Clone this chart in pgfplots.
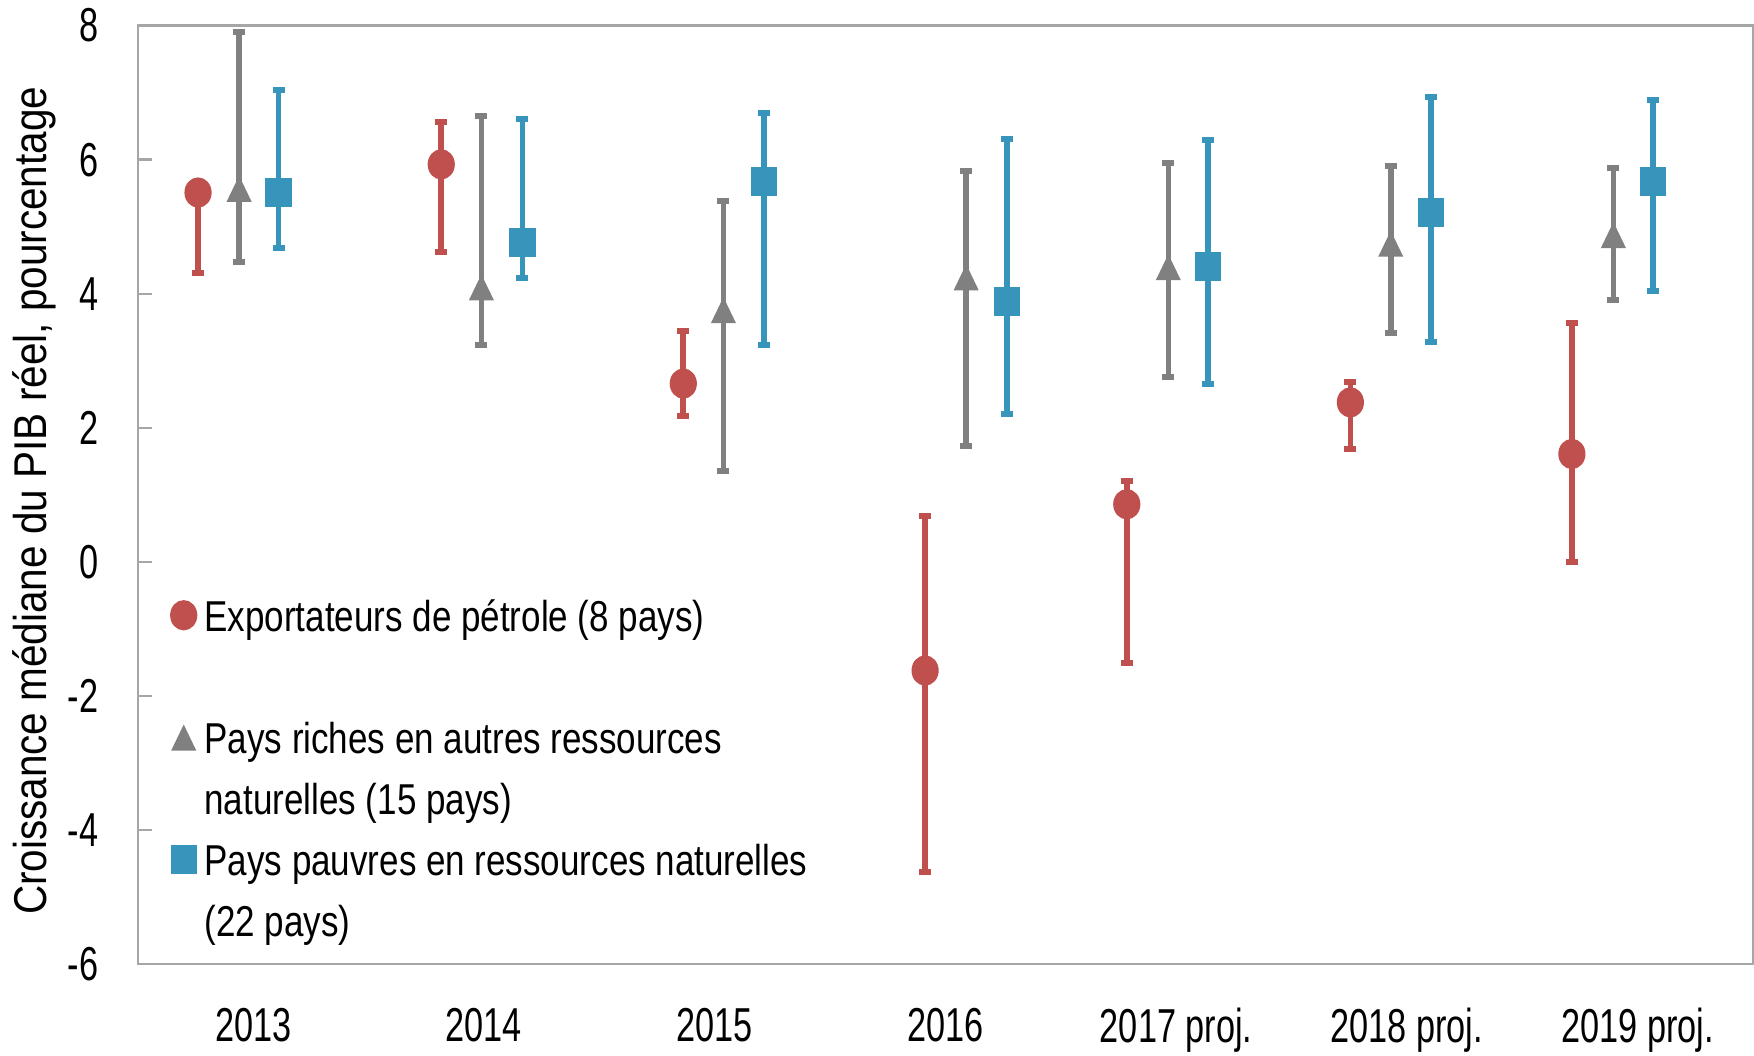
\documentclass[border=0pt]{standalone}
\usepackage{pgfplots}
\pgfplotsset{compat=1.18}
\usepackage{pgfplotstable}
\usepackage{fontspec}
\setmainfont{Liberation Sans}
\newfontfamily\ticknarrow{Liberation Sans}[FakeStretch=0.72]
\newfontfamily\legnarrow{Liberation Sans}[FakeStretch=0.81]
\newfontfamily\labnarrow{Liberation Sans}[FakeStretch=0.88]

\definecolor{cRed}{HTML}{C0504D}
\definecolor{cGray}{HTML}{808080}
\definecolor{cBlue}{HTML}{3795BC}
\definecolor{cFrame}{HTML}{A6A6A6}

% x = position (group index + offset), y = median, lo/hi = range
\pgfplotstableread{
x      y     lo     hi
-0.239 5.51  4.31   5.51
0.815  5.93  4.62   6.56
1.864  2.66  2.17   3.44
2.912  -1.62 -4.62  0.69
3.786  0.86  -1.51  1.21
4.755  2.38  1.68   2.69
5.715  1.61  0.00   3.56
}\oilexp

\pgfplotstableread{
x      y     lo     hi
-0.061 5.57  4.48   7.90
0.989  4.10  3.24   6.65
2.038  3.76  1.35   5.38
3.090  4.25  1.73   5.83
3.966  4.40  2.76   5.95
4.930  4.75  3.42   5.91
5.895  4.88  3.91   5.88
}\riches

\pgfplotstableread{
x      y     lo     hi
0.110  5.51  4.69   7.04
1.167  4.77  4.24   6.61
2.214  5.67  3.24   6.69
3.266  3.88  2.21   6.31
4.137  4.41  2.65   6.30
5.105  5.21  3.28   6.93
6.067  5.68  4.04   6.89
}\pauvres

\begin{document}
\begin{tikzpicture}
\begin{axis}[
  name=ax,
  scale only axis,
  width=403.75pt, height=234.6pt,
  xmin=-0.5, xmax=6.5, ymin=-6, ymax=8,
  xtick={0,...,6},
  xticklabels={2013,2014,2015,2016,2017 proj.,2018 proj.,2019 proj.},
  ytick={-6,-4,-2,0,2,4,6,8},
  yticklabels={-6,-4,-2,0,2,4,6,8},
  axis line style={cFrame, line width=0.6pt},
  ytick pos=left,
  tick align=inside,
  major tick length=3.6pt,
  ytick style={cFrame, line width=0.6pt},
  xtick style={draw=none},
  xticklabel style={font=\ticknarrow\fontsize{11.9}{14}\selectfont, anchor=north, inner sep=0pt, yshift=-10.75pt},
  yticklabel style={font=\ticknarrow\fontsize{11.9}{14}\selectfont, anchor=east, inner sep=0pt, xshift=-9.7pt},
  ylabel={Croissance médiane du PIB réel, pourcentage},
  ylabel style={font=\labnarrow\fontsize{11.5}{13}\selectfont, at={(axis description cs:-0.064,0.4936)}, anchor=center},
  legend image code/.code={\draw[#1] plot coordinates {(0cm,1.4pt)};},
  legend cell align=left,
  legend style={at={(0.02,0.389)}, anchor=north west, draw=none, fill=none, inner sep=0pt,
    row sep=4.75pt, column sep=2pt, font=\legnarrow\fontsize{10.8}{13}\selectfont,
    nodes={inner sep=0pt, text height=8pt, text depth=2.5pt}},
  error bars/y dir=both,
  error bars/y explicit,
  error bars/error mark=|,
]
% legend
\addlegendimage{only marks, mark=*, cRed, mark size=3.2pt, mark options={yscale=1.12, fill=cRed, draw=cRed}}
\addlegendentry{Exportateurs de pétrole (8 pays)}
\addlegendimage{empty legend}
\addlegendentry{}
\addlegendimage{only marks, mark=triangle*, cGray, mark size=3.89pt, mark options={xscale=0.835, yshift=-1.17pt, fill=cGray, draw=cGray}}
\addlegendentry{Pays riches en autres ressources}
\addlegendimage{empty legend}
\addlegendentry{naturelles (15 pays)}
\addlegendimage{only marks, mark=square*, cBlue, mark size=3.1pt, mark options={yscale=1.1, fill=cBlue, draw=cBlue}}
\addlegendentry{Pays pauvres en ressources naturelles}
\addlegendimage{empty legend}
\addlegendentry{(22 pays)}

% series
\addplot[forget plot, only marks, mark=*, cRed, mark size=3.2pt, mark options={yscale=1.12, fill=cRed, draw=cRed},
  error bars/error bar style={line width=1.4pt, cRed},
  error bars/error mark options={line width=1.5pt, mark size=1.5pt, cRed}]
  table[x=x, y=y, y error plus expr=\thisrow{hi}-\thisrow{y}, y error minus expr=\thisrow{y}-\thisrow{lo}] {\oilexp};

\addplot[forget plot, only marks, mark=triangle*, cGray, mark size=3.89pt, mark options={xscale=0.835, yshift=-1.17pt, fill=cGray, draw=cGray},
  error bars/error bar style={line width=1.4pt, cGray},
  error bars/error mark options={line width=1.5pt, mark size=1.5pt, cGray}]
  table[x=x, y=y, y error plus expr=\thisrow{hi}-\thisrow{y}, y error minus expr=\thisrow{y}-\thisrow{lo}] {\riches};

\addplot[forget plot, only marks, mark=square*, cBlue, mark size=3.1pt, mark options={yscale=1.1, fill=cBlue, draw=cBlue},
  error bars/error bar style={line width=1.4pt, cBlue},
  error bars/error mark options={line width=1.5pt, mark size=1.5pt, cBlue}]
  table[x=x, y=y, y error plus expr=\thisrow{hi}-\thisrow{y}, y error minus expr=\thisrow{y}-\thisrow{lo}] {\pauvres};
\end{axis}
\pgfresetboundingbox
\path[use as bounding box] ([shift={(-34.45pt,-22.75pt)}]ax.south west) rectangle ([shift={(0.25pt,6.4pt)}]ax.north east);
\end{tikzpicture}
\end{document}
